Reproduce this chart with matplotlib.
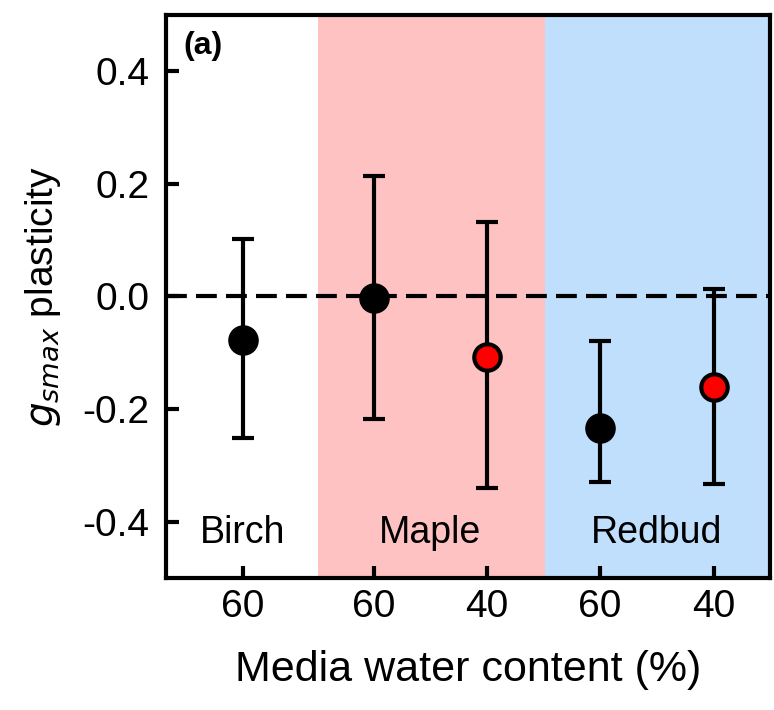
import numpy as np
import matplotlib
matplotlib.use("Agg")
import matplotlib.pyplot as plt

plt.rcParams['font.family'] = ['Liberation Sans', 'DejaVu Sans']

# group positions on the x axis and their tick labels
xpos = [0.68, 1.84, 2.84, 3.84, 4.85]
xlabels = ['60', '60', '40', '60', '40']

# means and error bar ends
means = [-0.077, -0.002, -0.107, -0.234, -0.161]
upper = [0.102, 0.214, 0.132, -0.079, 0.014]
lower = [-0.252, -0.218, -0.340, -0.329, -0.334]
face = ['black', 'black', 'red', 'black', 'red']

species = ['Birch', 'Maple', 'Redbud']
species_x = [0.68, 2.34, 4.34]
bands = [(1.35, 3.36, '#ffc2c2'), (3.36, 5.35, '#bfdffd')]

fig = plt.figure(figsize=(7.74, 7.10), dpi=100)
ax = fig.add_axes([0.2145, 0.186, 0.7805, 0.793])

for x0, x1, c in bands:
    ax.axvspan(x0, x1, color=c, lw=0, zorder=0)

ax.axhline(0, color='black', lw=3, ls=(0, (5, 2.2)), zorder=1)

for x, m, u, l, fc in zip(xpos, means, upper, lower, face):
    yerr = [[m - l], [u - m]]
    ax.errorbar([x], [m], yerr=yerr, fmt='none', ecolor='black',
                elinewidth=3, capsize=8, capthick=3, zorder=2)
    if fc == 'black':
        ax.plot(x, m, 'o', ms=21, mfc='black', mec='black', zorder=3)
    else:
        ax.plot(x, m, 'o', ms=19, mfc='red', mec='black', mew=3, zorder=3)

for name, x in zip(species, species_x):
    ax.text(x, -0.42, name, ha='center', va='center', fontsize=27)

ax.text(0.15, 0.445, '(a)', fontsize=23, fontweight='bold', ha='left', va='center')

ax.set_xlim(0, 5.35)
ax.set_ylim(-0.5, 0.5)
ax.set_xticks(xpos)
ax.set_xticklabels(xlabels)
ax.set_yticks([-0.4, -0.2, 0.0, 0.2, 0.4])
ax.set_yticklabels(['-0.4', '-0.2', '0.0', '0.2', '0.4'])
ax.tick_params(direction='in', length=9, width=3, labelsize=28, pad=8)
ax.tick_params(axis='y', pad=12)
for s in ax.spines.values():
    s.set_linewidth(3)

ax.set_xlabel('Media water content (%)', fontsize=31, labelpad=18)
ax.set_ylabel(r'$g_{smax}$ plasticity', fontsize=28, labelpad=14)

fig.savefig('out.png', dpi=100)
